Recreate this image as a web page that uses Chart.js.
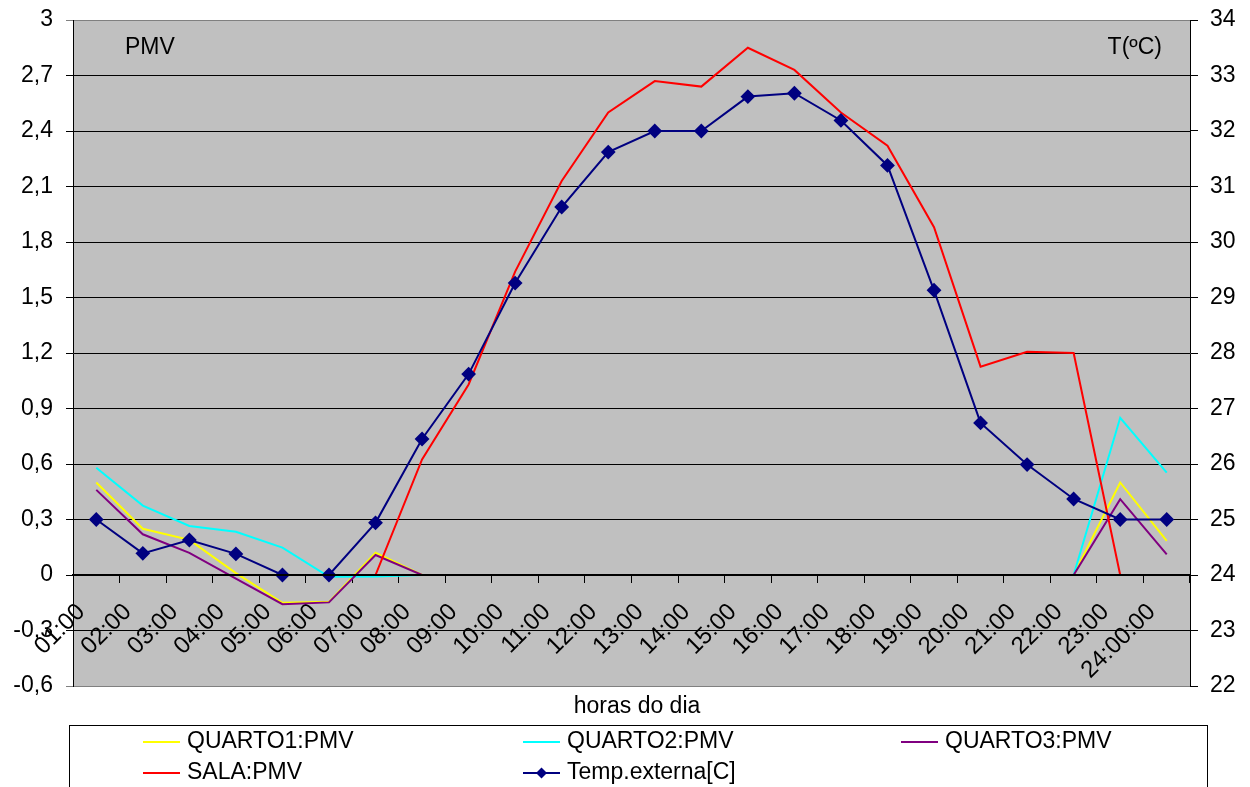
<!DOCTYPE html>
<html>
<head>
<meta charset="utf-8">
<title>PMV e temperatura externa</title>
<script src="https://cdn.jsdelivr.net/npm/chart.js@4/dist/chart.umd.min.js"></script>
<style>
  html, body { margin: 0; padding: 0; background: #ffffff; }
  canvas { display: block; }
</style>
</head>
<body>
<canvas id="chart" width="1250" height="787"></canvas>
<script>
// Horas do dia (eixo das categorias)
const hours = ['01:00', '02:00', '03:00', '04:00', '05:00', '06:00', '07:00', '08:00',
  '09:00', '10:00', '11:00', '12:00', '13:00', '14:00', '15:00', '16:00',
  '17:00', '18:00', '19:00', '20:00', '21:00', '22:00', '23:00', '24:00:00'];

// PMV por compartimento (eixo esquerdo)
const quarto1 = [0.50, 0.25, 0.19, 0.01, -0.15, -0.145, 0.12, 0, 0, 0, 0, 0, 0, 0, 0, 0,
  0, 0, 0, 0, 0, 0, 0.50, 0.185];
const quarto2 = [0.58, 0.375, 0.265, 0.234, 0.148, -0.01, -0.008, 0, 0, 0, 0, 0, 0, 0, 0, 0,
  0, 0, 0, 0, 0, 0, 0.85, 0.553];
const quarto3 = [0.46, 0.22, 0.12, -0.02, -0.158, -0.148, 0.108, 0, 0, 0, 0, 0, 0, 0, 0, 0,
  0, 0, 0, 0, 0, 0, 0.41, 0.112];
const sala = [0, 0, 0, 0, 0, 0, 0, 0.625, 1.03, 1.64, 2.13, 2.50, 2.67, 2.64, 2.85, 2.73,
  2.50, 2.32, 1.88, 1.126, 1.207, 1.20, 0, 0];

// Temperatura externa em ºC (eixo direito)
const tempExterna = [25.0, 24.39, 24.63, 24.38, 24.0, 24.0, 24.94, 26.45, 27.62, 29.26, 30.63,
  31.62, 32.0, 32.0, 32.62, 32.68, 32.19, 31.38, 29.13, 26.74, 25.99, 25.37, 25.0, 25.0];

// Marcas dos eixos
const pmvTicks = [-0.6, -0.3, 0, 0.3, 0.6, 0.9, 1.2, 1.5, 1.8, 2.1, 2.4, 2.7, 3];
const tempTicks = [22, 23, 24, 25, 26, 27, 28, 29, 30, 31, 32, 33, 34];

const FONT = "'Liberation Sans', Arial, sans-serif";

function formatPmv(v) {
  if (Math.abs(v - Math.round(v)) < 1e-9) return String(Math.round(v));
  return v.toFixed(1).replace('.', ',');
}

// Largura fixa dos eixos verticais, sem folga extra acima/abaixo
function fixVerticalAxis(width) {
  return (s) => {
    s.width = width;
    s.paddingTop = 0;
    s.paddingBottom = 0;
  };
}

// Fundo cinzento da área do gráfico
const plotBackground = {
  id: 'plotBackground',
  beforeDraw(chart) {
    const { ctx, chartArea: a } = chart;
    ctx.save();
    ctx.fillStyle = '#ffffff';
    ctx.fillRect(0, 0, chart.width, chart.height);
    ctx.fillStyle = '#c0c0c0';
    ctx.fillRect(a.left, a.top, a.right - a.left, a.bottom - a.top);
    ctx.restore();
  }
};

// Títulos dos eixos, título das categorias e legenda em grelha
const annotations = {
  id: 'annotations',
  afterDraw(chart) {
    const { ctx, chartArea: a } = chart;
    ctx.save();
    ctx.fillStyle = '#000000';
    ctx.font = '23px ' + FONT;
    ctx.textBaseline = 'middle';
    ctx.textAlign = 'left';
    ctx.fillText('PMV', a.left + 52, a.top + 28);
    ctx.textAlign = 'right';
    ctx.fillText('T(ºC)', a.right - 28, a.top + 28);
    ctx.textAlign = 'center';
    ctx.fillText('horas do dia', 637, a.bottom + 21);

    // legenda
    const boxL = 69, boxT = 725, boxR = 1207;
    ctx.strokeStyle = '#000000';
    ctx.lineWidth = 1;
    ctx.strokeRect(boxL + 0.5, boxT + 0.5, boxR - boxL, 120);
    const cols = [143, 523, 901];
    const rows = [742, 773];
    chart.data.datasets.forEach((ds, k) => {
      const x = cols[k % 3];
      const y = rows[Math.floor(k / 3)];
      ctx.strokeStyle = ds.borderColor;
      ctx.lineWidth = 2;
      ctx.beginPath();
      ctx.moveTo(x, y);
      ctx.lineTo(x + 37, y);
      ctx.stroke();
      if (ds.pointStyle === 'rectRot') {
        const cx = x + 18.5, r = 5.5;
        ctx.fillStyle = ds.pointBackgroundColor;
        ctx.beginPath();
        ctx.moveTo(cx, y - r);
        ctx.lineTo(cx + r, y);
        ctx.lineTo(cx, y + r);
        ctx.lineTo(cx - r, y);
        ctx.closePath();
        ctx.fill();
      }
      ctx.fillStyle = '#000000';
      ctx.textAlign = 'left';
      ctx.font = '23px ' + FONT;
      ctx.fillText(ds.label, x + 44, y);
    });
    ctx.restore();
  }
};

new Chart(document.getElementById('chart'), {
  type: 'line',
  data: {
    labels: hours,
    datasets: [
      { label: 'QUARTO1:PMV', data: quarto1, yAxisID: 'y', borderColor: '#ffff00',
        borderWidth: 2, pointRadius: 0, order: 5 },
      { label: 'QUARTO2:PMV', data: quarto2, yAxisID: 'y', borderColor: '#00ffff',
        borderWidth: 2, pointRadius: 0, order: 4 },
      { label: 'QUARTO3:PMV', data: quarto3, yAxisID: 'y', borderColor: '#800080',
        borderWidth: 2, pointRadius: 0, order: 3 },
      { label: 'SALA:PMV', data: sala, yAxisID: 'y', borderColor: '#ff0000',
        borderWidth: 2, pointRadius: 0, order: 2 },
      { label: 'Temp.externa[C]', data: tempExterna, yAxisID: 'y1', borderColor: '#000080',
        borderWidth: 2, pointStyle: 'rectRot', pointRadius: 6,
        pointBackgroundColor: '#000080', pointBorderColor: '#000080', order: 1 }
    ]
  },
  options: {
    responsive: false,
    animation: false,
    devicePixelRatio: 1,
    layout: { padding: { top: 20, bottom: 101, left: 0, right: 0 } },
    elements: { line: { tension: 0 } },
    plugins: {
      legend: { display: false },
      tooltip: { enabled: false },
      title: { display: false }
    },
    scales: {
      x: {
        type: 'category',
        position: { y: 0 },
        offset: true,
        grid: { offset: true, drawOnChartArea: false, drawTicks: true, tickLength: 7, color: '#000000' },
        border: { display: true, color: '#000000', width: 2, z: 1 },
        ticks: {
          autoSkip: false, minRotation: 45, maxRotation: 45,
          labelOffset: -15, padding: 16,
          color: '#000000', font: { family: FONT, size: 24 }
        }
      },
      y: {
        position: 'left',
        min: -0.6, max: 3,
        afterBuildTicks: (s) => { s.ticks = pmvTicks.map(v => ({ value: v })); },
        afterFit: fixVerticalAxis(73),
        grid: {
          color: (c) => (c.tick && (c.tick.value === 3 || c.tick.value === -0.6)) ? '#808080' : '#000000',
          tickLength: 7, lineWidth: 1
        },
        border: { display: true, color: '#000000', width: 1 },
        ticks: {
          callback: (v) => formatPmv(v),
          padding: 13, color: '#000000', font: { family: FONT, size: 23 }
        }
      },
      y1: {
        position: 'right',
        min: 22, max: 34,
        afterBuildTicks: (s) => { s.ticks = tempTicks.map(v => ({ value: v })); },
        afterFit: fixVerticalAxis(60),
        grid: { drawOnChartArea: false, tickLength: 8, color: '#000000' },
        border: { display: true, color: '#000000', width: 1 },
        ticks: {
          callback: (v) => String(v),
          padding: 12, color: '#000000', font: { family: FONT, size: 23 }
        }
      }
    }
  },
  plugins: [plotBackground, annotations]
});
</script>
</body>
</html>
